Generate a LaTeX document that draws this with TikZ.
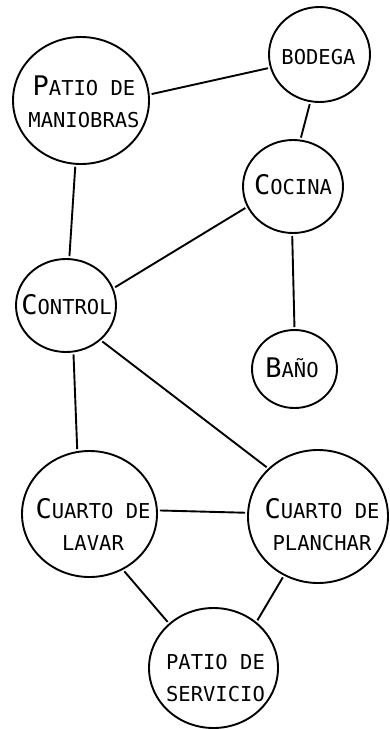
\documentclass[tikz,border=0pt]{standalone}
\usepackage{fontspec}
\newfontfamily\twfont{DejaVu Sans Mono}
\usetikzlibrary{shapes.geometric}
\newcommand\Bgl[1]{{\fontsize{27}{27}\selectfont #1}}
\tikzset{
  room/.style={ellipse, draw, line width=1.9pt, inner sep=0pt},
  lbl/.style={font=\twfont\fontsize{20.5}{32}\selectfont, align=center, inner sep=0pt},
  link/.style={line width=1.9pt, shorten <=2pt, shorten >=2pt},
}
\begin{document}
\begin{tikzpicture}[x=1pt,y=-1pt]
\useasboundingbox (0,0) rectangle (390,729);
% rooms
\node[room, minimum width=136pt, minimum height=127pt] (pm) at (81,100.5) {};
\node[room, minimum width=101pt, minimum height=95pt] (bo) at (319.5,54.5) {};
\node[room, minimum width=100pt, minimum height=93pt] (co) at (293,186.5) {};
\node[room, minimum width=100pt, minimum height=93pt] (ct) at (66,305.5) {};
\node[room, minimum width=85pt, minimum height=78pt] (ba) at (294.5,369) {};
\node[room, minimum width=135pt, minimum height=126pt] (cl) at (89.5,514) {};
\node[room, minimum width=140pt, minimum height=133pt] (cp) at (318,516.5) {};
\node[room, minimum width=129pt, minimum height=120pt] (ps) at (213.5,668) {};
% labels
\node[lbl] (tpm) at (84,101.5) {\Bgl{P}ATIO DE\\MANIOBRAS};
\node[lbl] (tbo) at (318.5,57) {BODEGA};
\node[lbl] (tco) at (293,185) {\Bgl{C}OCINA};
\node[lbl] (tct) at (66.5,305) {\Bgl{C}ONTROL};
\node[lbl] (tba) at (292,368) {\Bgl{B}AÑO};
\node[lbl] (tcl) at (93,524) {\Bgl{C}UARTO DE\\LAVAR};
\node[lbl] (tcp) at (322,525) {\Bgl{C}UARTO DE\\PLANCHAR};
\node[lbl] (tps) at (215.5,678) {PATIO DE\\SERVICIO};
% connectors
\draw[link] (pm.5) -- (bo.195);
\draw[link] (bo.259) -- (co.81);
\draw[link] (pm.265) -- (ct.86);
\draw[link] (ct.20) -- (co.204);
\draw[link] (co.269) -- (ba.90);
\draw[link] (ct.279) -- (cl.101);
\draw[link] (ct.315) -- (cp.136);
\draw[link] (cl.3) -- (cp.177);
\draw[link] (cl.301) -- (ps.135);
\draw[link] (cp.240) -- (ps.47);
\end{tikzpicture}
\end{document}
